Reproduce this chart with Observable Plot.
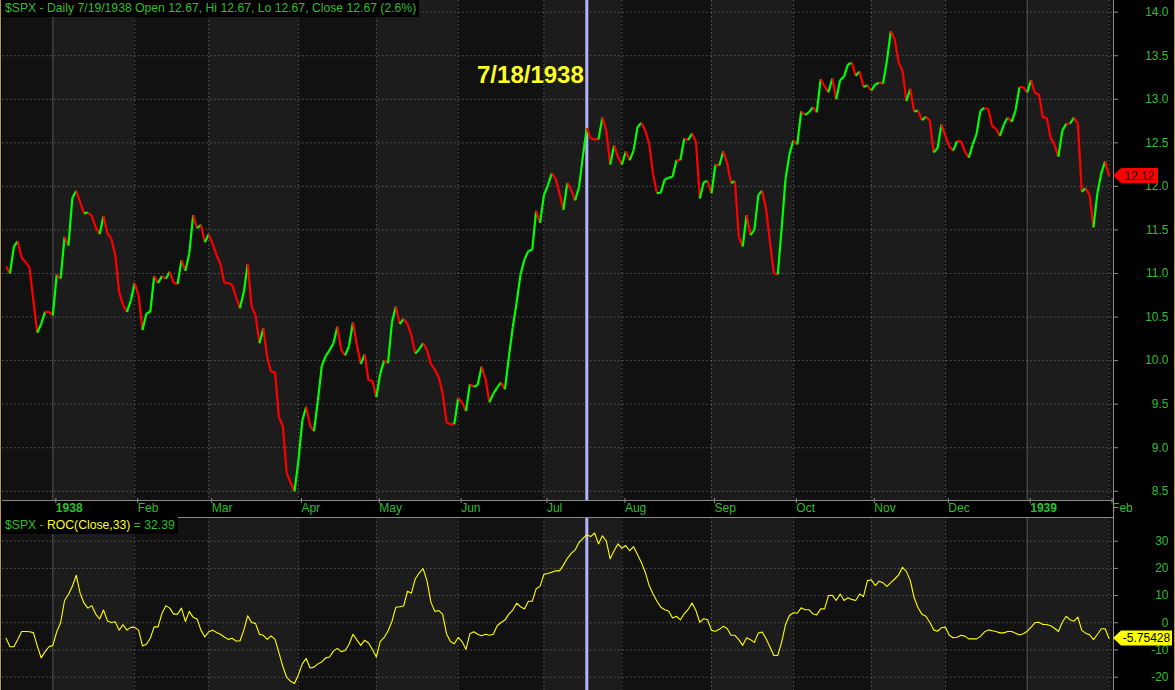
<!DOCTYPE html>
<html><head><meta charset="utf-8">
<script src="https://cdn.jsdelivr.net/npm/d3@7"></script>
<script src="https://cdn.jsdelivr.net/npm/@observablehq/plot@0.6"></script>
<style>
html,body{margin:0;padding:0;background:#000;}
#chart{position:relative;width:1175px;height:690px;background:#000;overflow:hidden;font-family:"Liberation Sans",Arial,sans-serif;}
#chart svg{position:absolute;left:0;}
.hdr{position:absolute;background:#000;font-size:12.2px;line-height:17px;height:17px;padding:0 3px;white-space:nowrap;color:#2dbf2d;}
.edge{position:absolute;top:0;width:1px;height:690px;background:#b89850;}
</style></head><body><div id="chart"></div>
<script>
// ---- data ----
const closes = [
11.08,11.00,11.31,11.37,11.18,11.13,11.07,10.69,10.32,10.42,10.56,10.56,
10.52,10.99,10.94,11.42,11.32,11.87,11.95,11.82,11.69,11.70,11.66,11.53,11.45,11.66,11.46,11.40,11.21,10.79,10.64,10.56,10.69,
10.89,10.75,10.35,10.54,10.56,10.97,10.89,10.97,10.94,11.02,10.89,10.88,11.15,11.03,11.23,11.67,11.52,11.56,11.36,
11.45,11.34,11.21,11.11,10.89,10.89,10.87,10.73,10.60,10.79,11.11,10.62,10.52,10.20,10.37,10.04,9.87,9.87,9.35,9.25,8.71,8.60,8.50,
8.85,9.31,9.47,9.25,9.19,9.54,9.94,10.05,10.12,10.20,10.39,10.12,10.06,10.17,10.44,10.18,9.96,10.07,9.77,9.77,
9.58,9.85,10.00,9.97,10.44,10.62,10.42,10.48,10.42,10.29,10.08,10.13,10.20,10.12,9.96,9.90,9.81,9.63,9.29,9.27,9.27,
9.57,9.52,9.42,9.73,9.70,9.72,9.93,9.79,9.52,9.62,9.69,9.75,9.67,10.04,10.38,10.67,10.99,11.16,11.26,11.27,11.72,11.58,
11.90,12.01,12.15,12.09,11.92,11.73,12.04,11.96,11.84,11.99,12.35,12.67,12.55,12.54,12.54,12.79,12.64,12.25,12.47,12.34,
12.25,12.40,12.30,12.41,12.68,12.73,12.64,12.49,12.14,11.92,11.93,12.08,12.10,12.11,12.30,12.30,12.55,12.53,12.61,12.51,11.86,12.05,12.06,
11.92,12.25,12.24,12.40,12.27,12.04,12.06,11.42,11.31,11.67,11.44,11.50,11.90,11.95,11.74,11.36,11.00,10.99,11.52,12.09,12.37,
12.53,12.48,12.86,12.82,12.85,12.91,12.85,13.23,13.15,13.08,13.24,13.00,13.22,13.26,13.40,13.42,13.27,13.32,13.14,13.16,
13.10,13.17,13.19,13.18,13.44,13.78,13.69,13.42,13.33,12.98,13.12,12.86,12.87,12.76,12.80,12.76,12.39,12.44,12.71,
12.58,12.46,12.41,12.52,12.52,12.40,12.33,12.48,12.60,12.87,12.90,12.89,12.69,12.66,12.58,12.71,12.79,12.74,12.87,13.14,13.14,
13.08,13.22,13.07,13.06,12.79,12.79,12.56,12.48,12.34,12.64,12.72,12.72,12.79,12.72,11.94,11.98,11.90,11.53,11.92,12.15,12.29,
12.12];
const roc = [
-5.7,-8.8,-8.8,-6.1,-3.2,-3.2,-3.3,-3.6,-8.5,-12.9,-10.6,-8.8,
-8.3,-3.3,0.1,8.2,10.4,13.4,17.5,10.9,7.2,5.4,6.3,3.2,1.4,4.7,0.7,0.1,0.4,-2.7,-0.7,-2.7,-1.7,
-1.7,-2.7,-8.5,-7.9,-5.7,-1.5,-1.5,3.5,6.3,5.4,3.2,3.2,5.4,0.5,4.2,2.0,1.4,-2.7,-5.2,
-3.3,-2.7,-3.6,-4.2,-5.2,-6.1,-5.7,-6.7,-6.7,-2.7,2.6,0.1,-0.2,-4.2,-4.6,-6.1,-4.8,-6.1,-11.0,-16.0,-20.1,-21.5,-22.3,
-19.1,-15.1,-13.1,-16.6,-16.3,-15.1,-14.4,-12.9,-12.6,-10.4,-9.4,-10.6,-10.2,-7.9,-4.2,-6.3,-8.3,-6.4,-7.4,-9.8,
-12.6,-6.9,-5.4,-3.0,0.5,5.7,5.9,6.2,11.6,10.9,16.2,18.3,19.9,15.4,7.6,4.2,4.5,3.2,-4.0,-6.9,-7.7,
-5.4,-6.9,-9.8,-4.0,-3.3,-4.2,-4.8,-4.2,-4.6,-4.2,-1.1,0.1,1.0,3.2,4.7,7.2,5.9,5.1,7.9,7.9,12.5,13.4,
17.8,18.1,18.6,19.1,19.1,21.2,23.7,25.5,26.8,29.5,31.0,32.39,31.7,33.0,29.0,32.0,30.0,23.5,26.5,29.0,
27.4,28.4,26.5,28.0,25.1,22.2,18.6,13.7,10.6,7.9,5.7,4.8,4.3,1.8,2.4,1.1,3.3,4.9,7.3,4.5,0.2,1.5,1.1,
-2.8,-3.1,-2.4,-1.3,-2.1,-4.6,-4.6,-6.2,-8.3,-5.5,-6.2,-7.2,-3.8,-3.4,-5.9,-8.9,-12.0,-12.0,-7.1,-0.6,2.7,
3.7,3.5,5.5,4.8,4.8,3.3,2.9,5.1,5.1,10.0,10.1,8.2,10.6,8.2,9.2,8.6,8.2,10.6,9.7,15.5,
15.8,13.7,15.3,14.7,13.4,14.8,16.1,17.6,20.4,18.9,15.5,9.2,5.5,3.1,2.4,0.2,-2.6,-3.1,-1.8,
-1.6,-4.6,-5.5,-5.3,-4.6,-4.9,-5.9,-5.9,-5.9,-5.0,-3.4,-2.6,-2.9,-3.2,-3.7,-3.7,-3.2,-3.2,-3.8,-4.5,-4.0,
-3.1,-1.6,0.1,0.2,-0.6,-0.6,-1.1,-2.0,-3.2,0.2,2.4,1.1,0.6,2.1,-2.8,-3.8,-4.4,-6.2,-4.3,-2.2,-2.2,
-5.75428];
const holidays = ["1938-02-22","1938-04-15","1938-05-30","1938-07-04","1938-09-05","1938-10-12",
  "1938-11-08","1938-11-11","1938-11-24","1938-12-26","1939-01-02"];
const monthNames = ["Jan","Feb","Mar","Apr","May","Jun","Jul","Aug","Sep","Oct","Nov","Dec"];
const priceTicks = [8.5,9.0,9.5,10.0,10.5,11.0,11.5,12.0,12.5,13.0,13.5,14.0];
const rocTicks = [-20,-10,0,10,20,30];
const cursorDate = "1938-07-19";
const annotation = [{date:"1938-07-19", value:13.27, label:"7/18/1938"}];
const titleText = "$SPX - Daily 7/19/1938 Open 12.67, Hi 12.67, Lo 12.67, Close 12.67 (2.6%)";

// ---- trading calendar ----
const dates = [];
for (let t = Date.UTC(1937,11,16); t <= Date.UTC(1939,1,1); t += 86400000) {
  const d = new Date(t), wd = d.getUTCDay();
  const s = d.toISOString().slice(0,10);
  if (wd === 0 || wd === 6 || holidays.includes(s)) continue;
  dates.push(s);
}
const N = closes.length;
const rows = closes.map((c,i)=>({i, c, r: roc[i], date: dates[i]}));
const segs = rows.slice(1).map((d,k)=>({x1:k, y1:closes[k], x2:k+1, y2:d.c, up: d.c > closes[k]}));
const monthTicks = [];
for (let i=1;i<N;i++) {
  if (dates[i].slice(5,7) !== dates[i-1].slice(5,7)) {
    const m = +dates[i].slice(5,7)-1;
    monthTicks.push({i, year: m===0, label: m===0 ? dates[i].slice(0,4) : monthNames[m]});
  }
}
const labelOf = new Map(monthTicks.map(t=>[t.i,t.label]));
const cursorIdx = dates.indexOf(cursorDate);
const annot = annotation.map(a=>({...a, i: dates.indexOf(a.date)}));

const xDom = [-0.92, 284.14];
const bounds = [xDom[0], ...monthTicks.map(t=>t.i), xDom[1]];
const bands = bounds.slice(1).map((b,k)=>({x1:bounds[k], x2:b, fill: k%2===0 ? "#111111" : "#1c1c1c"}));

const GREEN = "#2dbf2d", GRID = "#5c5c5c", AXIS = "#8a8a8a";
const font = {fontFamily:"Liberation Sans, Arial, sans-serif", fontSize:"12px", background:"transparent", color:GREEN};
const monthGrid = ()=>[
  Plot.ruleX(monthTicks.filter(d=>!d.year), {x:"i", stroke:GRID, strokeDasharray:"1.5,2.5"}),
  Plot.ruleX(monthTicks.filter(d=>d.year), {x:"i", stroke:"#555555"})
];

const pDom = [8.394, 14.134];
const price = Plot.plot({
  width:1175, height:517, marginLeft:2, marginRight:62, marginTop:0, marginBottom:17,
  style:font,
  x:{domain:xDom, axis:null, label:null},
  y:{domain:pDom, axis:null, label:null},
  marks:[
    Plot.rect(bands, {x1:"x1", x2:"x2", fill:"fill"}),
    Plot.ruleY(priceTicks, {stroke:GRID, strokeDasharray:"1.5,2.5"}),
    ...monthGrid(),
    Plot.ruleX([cursorIdx], {stroke:"#b4b4ff", strokeWidth:3}),
    Plot.link(segs, {x1:"x1", y1:"y1", x2:"x2", y2:"y2", stroke:d=>d.up?"#00ff00":"#ff0000", strokeWidth:2.2}),
    Plot.text(annot, {x:"i", y:"value", text:"label", textAnchor:"end", dx:-3, fill:"#ffff22", fontSize:24, fontWeight:"bold"}),
    Plot.ruleX([xDom[1]], {stroke:AXIS}),
    Plot.ruleY([pDom[0]], {stroke:AXIS}),
    Plot.axisY(priceTicks, {anchor:"right", label:null, tickSize:4, tickPadding:51, textAnchor:"end", stroke:AXIS, fill:GREEN, tickFormat:d=>d.toFixed(1), fontSize:12}),
    Plot.axisX(monthTicks.filter(d=>!d.year).map(d=>d.i), {anchor:"bottom", label:null, tickSize:5, tickPadding:0, dy:-2, textAnchor:"start", dx:3, stroke:AXIS, fill:GREEN, tickFormat:i=>labelOf.get(i), fontSize:12}),
    Plot.axisX(monthTicks.filter(d=>d.year).map(d=>d.i), {anchor:"bottom", label:null, tickSize:5, tickPadding:0, dy:-2, textAnchor:"start", dx:3, stroke:AXIS, fill:GREEN, tickFormat:i=>labelOf.get(i), fontSize:12, fontWeight:"bold"})
  ]
});
price.style.top = "0px";

const rDom = [-24.89, 38.71];
const rocPlot = Plot.plot({
  width:1175, height:173, marginLeft:2, marginRight:62, marginTop:0, marginBottom:0,
  style:font,
  x:{domain:xDom, axis:null, label:null},
  y:{domain:rDom, axis:null, label:null},
  marks:[
    Plot.rect(bands, {x1:"x1", x2:"x2", fill:"fill"}),
    Plot.ruleY(rocTicks, {stroke:GRID, strokeDasharray:"1.5,2.5"}),
    ...monthGrid(),
    Plot.ruleX([cursorIdx], {stroke:"#b4b4ff", strokeWidth:3}),
    Plot.line(rows, {x:"i", y:"r", stroke:"#ffff00", strokeWidth:1.1}),
    Plot.ruleX([xDom[1]], {stroke:AXIS}),
    Plot.ruleY([rDom[1]], {stroke:AXIS}),
    Plot.axisY(rocTicks, {anchor:"right", label:null, tickSize:4, tickPadding:51, textAnchor:"end", stroke:AXIS, fill:GREEN, tickFormat:d=>String(d), fontSize:12})
  ]
});
rocPlot.style.top = "517px";

const chart = document.getElementById("chart");
chart.appendChild(price);
chart.appendChild(rocPlot);

// value tags on the right axis
function tag(svg, yScale, value, text, fill, w) {
  const y = yScale.apply(value), x0 = 1113;
  const g = d3.select(svg).append("g");
  g.append("path").attr("d", `M${x0},${y} L${x0+8},${y-7.5} L${x0+w},${y-7.5} L${x0+w},${y+7.5} L${x0+8},${y+7.5} Z`).attr("fill", fill);
  g.append("text").attr("x", x0+8+(w-8)/2).attr("y", y).attr("dy","0.35em").attr("text-anchor","middle")
    .attr("fill","#000").attr("font-size",12).attr("font-family","Liberation Sans, Arial, sans-serif").text(text);
}
tag(price, price.scale("y"), closes[N-1], closes[N-1].toFixed(2), "#ff0000", 45);
tag(rocPlot, rocPlot.scale("y"), roc[N-1], String(roc[N-1]), "#ffff00", 59);

// headers
const h1 = document.createElement("div");
h1.className = "hdr"; h1.style.left = "2px"; h1.style.top = "0px"; h1.textContent = titleText;
chart.appendChild(h1);
const h2 = document.createElement("div");
h2.className = "hdr"; h2.style.left = "2px"; h2.style.top = "517px";
h2.innerHTML = '<span>$SPX - </span><span style="color:#ffff22">ROC(Close,33)</span><span> = ' + roc[dates.indexOf(cursorDate)].toFixed(2) + '</span>';
chart.appendChild(h2);
// axis line through the date strip and window edges
const vl = document.createElement("div");
vl.style.cssText = "position:absolute;left:1112.5px;top:500px;width:1px;height:17px;background:#8a8a8a";
chart.appendChild(vl);
const e1 = document.createElement("div"); e1.className="edge"; e1.style.left="0px"; chart.appendChild(e1);
const e2 = document.createElement("div"); e2.className="edge"; e2.style.left="1174px"; chart.appendChild(e2);
</script></body></html>
